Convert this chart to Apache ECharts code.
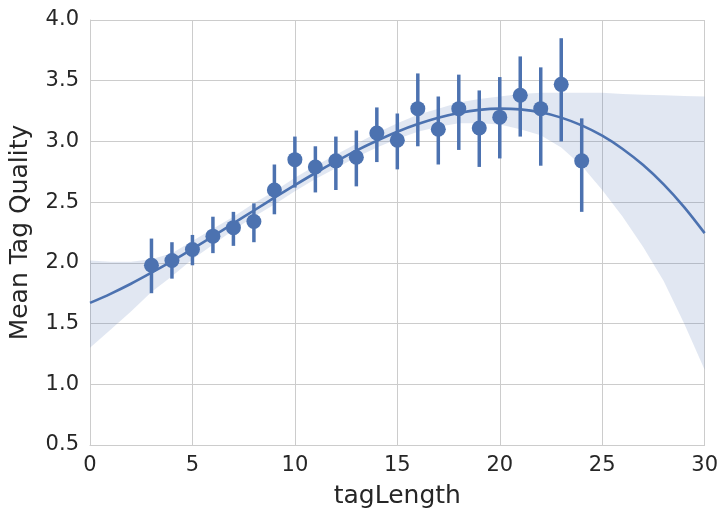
<!DOCTYPE html>
<html>
<head>
<meta charset="utf-8">
<script src="https://cdn.jsdelivr.net/npm/echarts@6/dist/echarts.min.js"></script>
<style>html,body{margin:0;padding:0;background:#fff}#c{width:721px;height:514px}</style>
</head>
<body>
<div id="c"></div>
<script>
// Binned estimates (tagLength -> mean, CI)
const tagLength = [3,4,5,6,7,8,9,10,11,12,13,14,15,16,17,18,19,20,21,22,23,24];
const meanQuality = [1.98,2.02,2.11,2.22,2.29,2.34,2.60,2.85,2.79,2.84,2.87,3.07,3.01,3.27,3.10,3.27,3.11,3.20,3.38,3.27,3.47,2.84];
const ciLow  = [1.75,1.87,1.98,2.08,2.14,2.17,2.40,2.62,2.58,2.60,2.63,2.83,2.77,2.96,2.81,2.93,2.79,2.86,3.04,2.80,3.00,2.42];
const ciHigh = [2.20,2.17,2.23,2.38,2.42,2.49,2.81,3.04,2.96,3.04,3.09,3.28,3.23,3.56,3.37,3.55,3.42,3.53,3.70,3.61,3.85,3.19];

// Regression fit and its confidence band
const fitX    = [0,1,2,3,4,5,6,7,8,9,10,11,12,13,14,15,16,17,18,19,20,21,22,23,24,25,26,27,28,29,30];
const fitY    = [1.67,1.745,1.828,1.919,2.015,2.115,2.219,2.325,2.431,2.537,2.64,2.74,2.835,2.925,3.006,3.08,3.143,3.195,3.234,3.26,3.27,3.264,3.24,3.196,3.132,3.047,2.938,2.805,2.646,2.459,2.245];
const bandLow = [1.30,1.45,1.60,1.76,1.89,2.03,2.15,2.27,2.38,2.48,2.59,2.69,2.78,2.87,2.95,3.02,3.08,3.12,3.15,3.15,3.14,3.10,3.05,2.95,2.80,2.60,2.38,2.13,1.85,1.50,1.12];
const bandHigh= [2.02,2.01,2.01,2.03,2.08,2.18,2.28,2.38,2.49,2.59,2.70,2.80,2.89,2.98,3.07,3.15,3.22,3.27,3.32,3.35,3.37,3.39,3.40,3.40,3.40,3.40,3.39,3.385,3.38,3.375,3.37];

const xTicks = {min:0, max:30, interval:5};
const yTicks = {min:0.5, max:4.0, interval:0.5};

const blue = '#4c72b0';
const font = 'DejaVu Sans';
const chart = echarts.init(document.getElementById('c'), null, {renderer:'canvas'});

const option = {
  animation:false,
  backgroundColor:'#ffffff',
  grid:{left:89, right:13, top:20, bottom:69, containLabel:false},
  xAxis:{
    type:'value', min:xTicks.min, max:xTicks.max, interval:xTicks.interval,
    name:'tagLength', nameLocation:'middle', nameGap:39,
    nameTextStyle:{fontFamily:font, fontSize:25, color:'#262626'},
    axisLine:{show:true, lineStyle:{color:'#cccccc', width:1}},
    axisTick:{show:false},
    axisLabel:{fontFamily:font, fontSize:21, color:'#262626', margin:10},
    splitLine:{show:true, lineStyle:{color:'#cccccc', width:1}}
  },
  yAxis:{
    type:'value', min:yTicks.min, max:yTicks.max, interval:yTicks.interval,
    name:'Mean Tag Quality', nameLocation:'middle', nameGap:57,
    nameTextStyle:{fontFamily:font, fontSize:25, color:'#262626'},
    axisLine:{show:true, lineStyle:{color:'#cccccc', width:1}},
    axisTick:{show:false},
    axisLabel:{fontFamily:font, fontSize:21, color:'#262626', margin:11,
      formatter:v=>v.toFixed(1)},
    splitLine:{show:true, lineStyle:{color:'#cccccc', width:1}}
  },
  series:[
    {
      type:'custom', z:1, silent:true,
      data:[[0]],
      renderItem:function(params, api){
        const pts = [];
        for(let i=0;i<fitX.length;i++) pts.push(api.coord([fitX[i], bandHigh[i]]));
        for(let i=fitX.length-1;i>=0;i--) pts.push(api.coord([fitX[i], bandLow[i]]));
        return {type:'polygon', shape:{points:pts}, style:{fill:'rgba(76,114,176,0.17)', stroke:null}};
      }
    },
    {
      type:'line', z:2, symbol:'none', smooth:0.3,
      data:fitX.map((x,i)=>[x, fitY[i]]),
      lineStyle:{color:blue, width:2.6}
    },
    {
      type:'custom', z:3,
      data:tagLength.map((x,i)=>[x, ciLow[i], ciHigh[i]]),
      encode:{x:0, y:[1,2]},
      renderItem:function(params, api){
        const p1 = api.coord([api.value(0), api.value(1)]);
        const p2 = api.coord([api.value(0), api.value(2)]);
        return {type:'line', shape:{x1:p1[0], y1:p1[1], x2:p2[0], y2:p2[1]},
          style:{stroke:blue, lineWidth:3.5}};
      }
    },
    {
      type:'scatter', z:4, symbol:'circle', symbolSize:15,
      data:tagLength.map((x,i)=>[x, meanQuality[i]]),
      itemStyle:{color:blue, opacity:1}
    }
  ]
};
chart.setOption(option);
</script>
</body>
</html>
